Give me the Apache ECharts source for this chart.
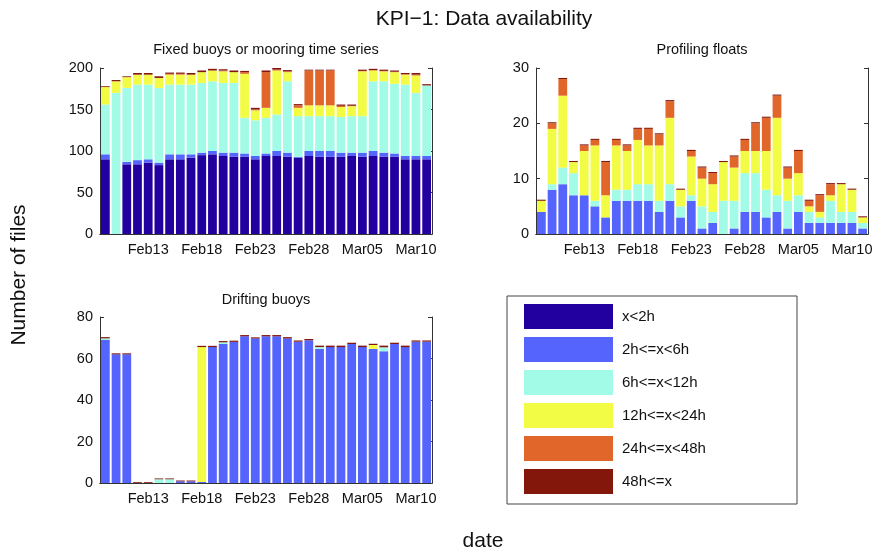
<!DOCTYPE html>
<html>
<head>
<meta charset="utf-8">
<script src="https://cdn.jsdelivr.net/npm/echarts@6/dist/echarts.min.js"></script>
<style>html,body{margin:0;padding:0;background:#fff}#c{width:886px;height:551px}</style>
</head>
<body>
<div id="c"></div>
<script>
// ---- data ----
const dates = ['Feb09','Feb10','Feb11','Feb12','Feb13','Feb14','Feb15','Feb16','Feb17','Feb18',
  'Feb19','Feb20','Feb21','Feb22','Feb23','Feb24','Feb25','Feb26','Feb27','Feb28',
  'Mar01','Mar02','Mar03','Mar04','Mar05','Mar06','Mar07','Mar08','Mar09','Mar10','Mar11'];
const tickLabels = ['Feb13','Feb18','Feb23','Feb28','Mar05','Mar10'];
const classes = ['x<2h','2h<=x<6h','6h<=x<12h','12h<=x<24h','24h<=x<48h','48h<=x'];

// Fixed buoys or mooring time series
const fixedLt2h   = [90,0,84,84,86,83,90,90,92,95,96,94,93,93,90,94,94,93,92,94,93,93,93,94,93,94,93,93,90,90,90];
const fixed2to6   = [6,0,3,5,4,3,6,6,4,3,4,4,5,4,4,3,6,5,1,6,7,7,5,4,5,6,5,4,4,4,4];
const fixed6to12  = [60,170,89,91,90,90,84,84,84,84,84,84,84,43,43,43,44,86,49,42,42,42,43,44,44,84,86,84,86,76,85];
const fixed12to24 = [21,14,13,12,12,12,12,12,12,13,13,14,13,53,12,12,53,11,10,13,13,13,12,12,54,13,12,14,12,21,0];
const fixed24to48 = [0,0,0,0,0,0,1,1,0,0,0,1,0,2,1,43,1,1,3,42,42,42,1.5,0.5,0.5,0.5,0.5,0.5,0.5,1,0];
const fixedGe48   = [1,1.5,1,2,2,2,1.5,1.5,2,2,2,1.5,2,1.5,2,2,2,1.5,1.5,1,1,1,1.5,1.5,1.5,1.5,1.5,1.5,1.5,2,1.5];

// Profiling floats
const profLt2h   = new Array(31).fill(0);
const prof2to6   = [4,8,9,7,7,5,3,6,6,6,6,4,6,3,6,1,2,0,1,4,4,3,4,1,4,2,2,2,2,2,1];
const prof6to12  = [0,1,3,4,0,1,0,2,2,3,3,2,3,2,1,4,2,6,5,7,7,5,3,5,3,2,1,4,2,2,1];
const prof12to24 = [2,10,13,2,8,10,4,8,7,8,7,10,12,3,7,5,5,7,6,4,4,7,14,4,4,1,1,1,5,4,1];
const prof24to48 = [0,1,3,0,1,1,6,1,1,2,3,2,3,0,1,2,2,0,2,2,5,6,4,2,4,1,3,2,0,0,0];
const profGe48   = [0.2,0.2,0.2,0.2,0.2,0.2,0.2,0.2,0.2,0.2,0.2,0.2,0.2,0.2,0.2,0.2,0.2,0.2,0.2,0.2,0.2,0.2,0.2,0.2,0.2,0.2,0.2,0.2,0.2,0.2,0.2];

// Drifting buoys
const driftLt2h   = new Array(31).fill(0);
const drift2to6   = [69,62,62,0,0,0,0,0.8,0.8,0.5,65.5,67,68,70.7,69.7,70.7,70.7,69.7,68.1,68.8,64.6,65.5,65.5,67,65.5,64.6,63.5,67,65.5,68.1,68.1];
const drift6to12  = [0.7,0,0,0,0,1.8,1.8,0,0,0,0,0.8,0,0,0,0,0,0,0,0,0.9,0,0,0,0,0,1.9,0,0,0,0];
const drift12to24 = [0,0,0,0,0,0,0,0,0,65,0,0,0,0,0,0,0,0,0,0,0,0,0,0,0,1.9,0,0,0,0,0];
const drift24to48 = new Array(31).fill(0);
const driftGe48   = [0.6,0.5,0.5,0.4,0.4,0.4,0.4,0.4,0.4,0.6,0.6,0.6,0.6,0.6,0.5,0.6,0.6,0.6,0.6,0.6,0.7,0.7,0.7,0.6,0.7,0.6,0.8,0.6,0.7,0.6,0.6];

// ---- chart ----
const colors = ['#22009f','#5464fd','#a2fbe6','#f3fc45','#e0662a','#84170c'];
const FONT = 'Liberation Sans, Arial, Helvetica, sans-serif';
const groups = [
  [fixedLt2h, fixed2to6, fixed6to12, fixed12to24, fixed24to48, fixedGe48],
  [profLt2h, prof2to6, prof6to12, prof12to24, prof24to48, profGe48],
  [driftLt2h, drift2to6, drift6to12, drift12to24, drift24to48, driftGe48]
];
const yRanges = [[0,200,50],[0,30,10],[0,80,20]];
const grids = [
  {left:100, top:68, width:332, height:166},
  {left:536, top:68, width:332, height:166},
  {left:100, top:317, width:332, height:166}
];
const showTick = (i, v) => tickLabels.indexOf(v) >= 0;
const xAxes = [], yAxes = [], series = [];
grids.forEach((g, gi) => {
  xAxes.push({type:'category', gridIndex:gi, data:dates, position:'bottom',
    axisLine:{lineStyle:{color:'#333', width:1}},
    axisTick:{inside:true, length:4, alignWithLabel:true, interval:showTick, lineStyle:{color:'#333'}},
    axisLabel:{interval:showTick, fontSize:14.5, fontFamily:FONT, color:'#111', margin:8}});
  xAxes.push({type:'category', gridIndex:gi, data:dates, position:'top',
    axisLine:{lineStyle:{color:'#333', width:1}},
    axisTick:{inside:true, length:4, alignWithLabel:true, interval:showTick, lineStyle:{color:'#333'}},
    axisLabel:{show:false}});
  const r = yRanges[gi];
  yAxes.push({type:'value', gridIndex:gi, min:r[0], max:r[1], interval:r[2], position:'left',
    splitLine:{show:false},
    axisLine:{show:true, lineStyle:{color:'#333', width:1}},
    axisTick:{show:true, inside:true, length:4, lineStyle:{color:'#333'}},
    axisLabel:{fontSize:14.5, fontFamily:FONT, color:'#111', margin:7}});
  yAxes.push({type:'value', gridIndex:gi, min:r[0], max:r[1], interval:r[2], position:'right',
    splitLine:{show:false},
    axisLine:{show:true, lineStyle:{color:'#333', width:1}},
    axisTick:{show:true, inside:true, length:4, lineStyle:{color:'#333'}},
    axisLabel:{show:false}});
  groups[gi].forEach((arr, si) => {
    series.push({type:'bar', name:classes[si], xAxisIndex:gi*2, yAxisIndex:gi*2,
      stack:'s'+gi, data:arr, barCategoryGap:'18%',
      itemStyle:{color:colors[si]}, emphasis:{disabled:true}, animation:false});
  });
});

const chart = echarts.init(document.getElementById('c'), null, {renderer:'canvas'});
chart.setOption({
  animation:false,
  backgroundColor:'#fff',
  textStyle:{fontFamily:FONT},
  grid:grids,
  xAxis:xAxes,
  yAxis:yAxes,
  series:series,
  legend:{data:classes, orient:'vertical', left:524, top:304, itemWidth:89, itemHeight:25, itemGap:8,
    icon:'rect', padding:0, selectedMode:false,
    textStyle:{fontSize:15, fontFamily:FONT, color:'#111', padding:[0,0,0,4]}},
  graphic:[
    {type:'rect', shape:{x:507, y:296, width:290, height:208}, style:{fill:'none', stroke:'#444', lineWidth:1}, z:-1},
    {type:'text', x:484, y:19, style:{text:'KPI\u22121: Data availability', fontSize:21, fontFamily:FONT, fill:'#111', align:'center', verticalAlign:'middle'}},
    {type:'text', x:266, y:50, style:{text:'Fixed buoys or mooring time series', fontSize:14.5, fontFamily:FONT, fill:'#111', align:'center', verticalAlign:'middle'}},
    {type:'text', x:702, y:50, style:{text:'Profiling floats', fontSize:14.5, fontFamily:FONT, fill:'#111', align:'center', verticalAlign:'middle'}},
    {type:'text', x:266, y:300, style:{text:'Drifting buoys', fontSize:14.5, fontFamily:FONT, fill:'#111', align:'center', verticalAlign:'middle'}},
    {type:'text', x:483, y:541, style:{text:'date', fontSize:21, fontFamily:FONT, fill:'#111', align:'center', verticalAlign:'middle'}},
    {type:'text', x:19, y:275, rotation:Math.PI/2, style:{text:'Number of files', fontSize:21, fontFamily:FONT, fill:'#111', align:'center', verticalAlign:'middle'}}
  ]
});
</script>
</body>
</html>
